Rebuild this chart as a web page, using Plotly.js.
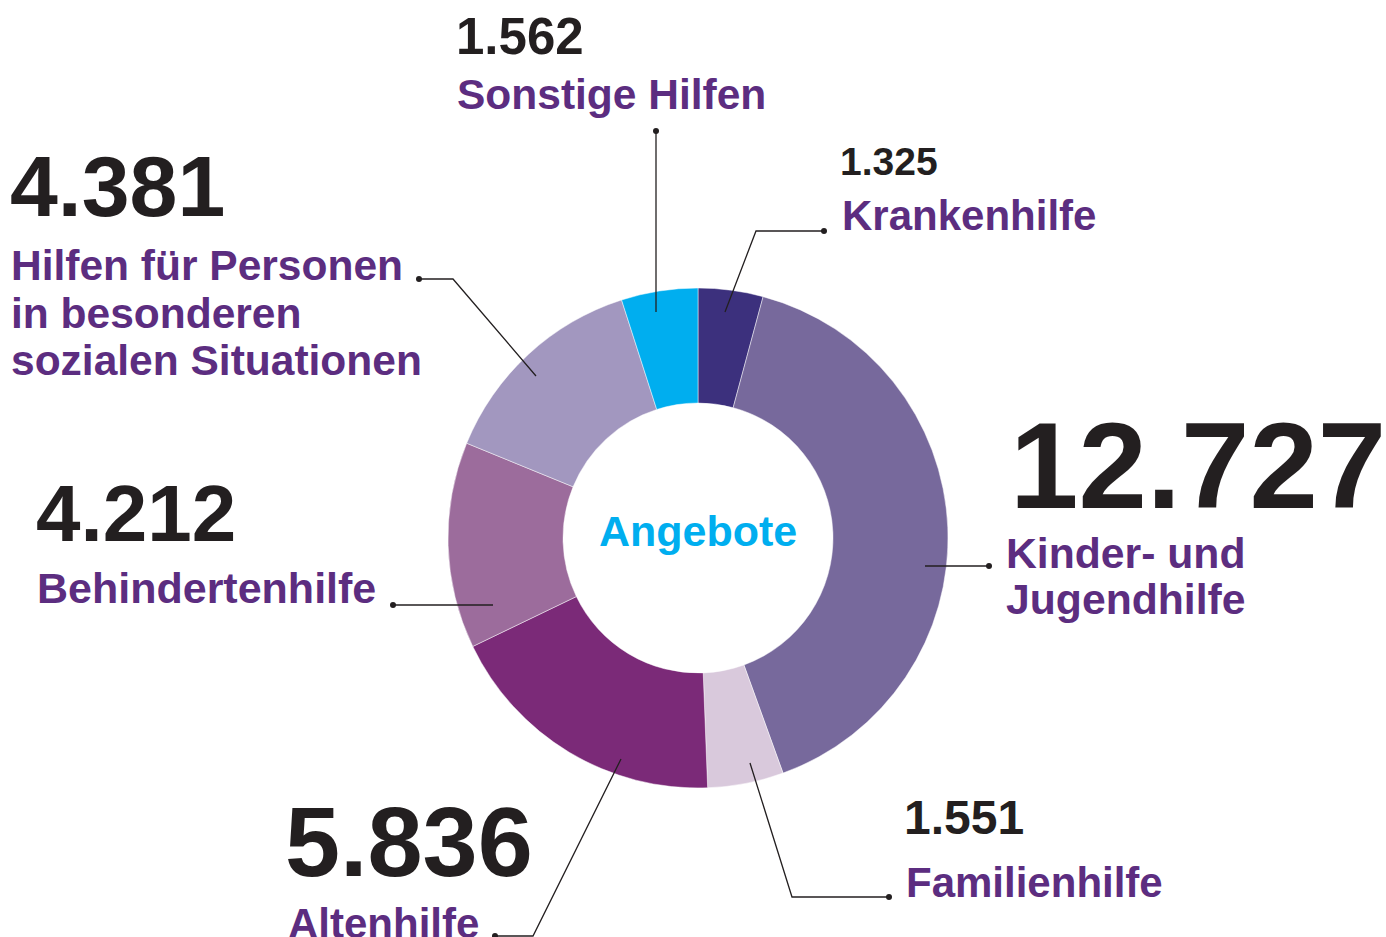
<!DOCTYPE html>
<html>
<head>
<meta charset="utf-8">
<script src="https://cdn.plot.ly/plotly-3.0.1.min.js"></script>
<style>
html,body{margin:0;padding:0;background:#fff;}
#chart{width:1386px;height:937px;}
</style>
</head>
<body>
<div id="chart"></div>
<script>
// ---- data ----
var categories = ["Krankenhilfe", "Kinder- und Jugendhilfe", "Familienhilfe", "Altenhilfe", "Behindertenhilfe", "Hilfen für Personen in besonderen sozialen Situationen", "Sonstige Hilfen"];
var values = [1325, 12727, 1551, 5836, 4212, 4381, 1562];
var labelLines = [["Krankenhilfe"], ["Kinder- und", "Jugendhilfe"], ["Familienhilfe"], ["Altenhilfe"], ["Behindertenhilfe"], ["Hilfen für Personen", "in besonderen", "sozialen Situationen"], ["Sonstige Hilfen"]];
var centerLabel = "Angebote";

// ---- styles ----
var sliceColors = ["#3c307d", "#77699c", "#d9c9dc", "#7b2a78", "#9c6c9c", "#a297bf", "#00aeef"];
var W = 1386, H = 937;
var FONT = "Liberation Sans, Arial, Helvetica, sans-serif";
var NUM_COLOR = "#231f20", LAB_COLOR = "#5c2d80", LINE_COLOR = "#231f20";

// label placement per category (pixel space): number x, number cap-center y, number size, label y list, label size
var place = [
  {x: 838, ny: 162, ns: 39, ly: [215], ls: 42, lx: 840},
  {x: 1008, ny: 465, ns: 123, ly: [553, 599], ls: 42.7, lx: 1004},
  {x: 902, ny: 817, ns: 48, ly: [882], ls: 42, lx: 904},
  {x: 283, ny: 841, ns: 99, ly: [923], ls: 42, lx: 286},
  {x: 34, ny: 513, ns: 80, ly: [588], ls: 43, lx: 35},
  {x: 8, ny: 186, ns: 86, ly: [265, 313, 360], ls: 42.5, lx: 9},
  {x: 454, ny: 37, ns: 51, ly: [94], ls: 42.5, lx: 455}
];
// leader line polylines (pixel space); the first point carries the dot
var leaders = [
  [[824, 231], [756, 231], [725, 312]],
  [[989, 566], [925, 566]],
  [[889, 897], [792, 897], [750, 763]],
  [[495, 936], [533, 936], [621, 759]],
  [[393, 605], [493, 605]],
  [[419, 279], [453, 279], [536, 376]],
  [[656, 131], [656, 312]]
];

function px(x){ return x / W; }
function py(y){ return 1 - y / H; }
function fmt(v){ return String(v).replace(/\B(?=(\d{3})+(?!\d))/g, "."); }

var cx = 698, cy = 538, R = 250;

var trace = {
  type: "pie",
  labels: categories,
  values: values,
  sort: false,
  direction: "clockwise",
  rotation: 0,
  hole: 0.54,
  textinfo: "none",
  hoverinfo: "label+value",
  marker: {colors: sliceColors, line: {color: "rgba(255,255,255,0.6)", width: 0.8}},
  domain: {x: [px(cx - R), px(cx + R)], y: [py(cy + R), py(cy - R)]},
  showlegend: false
};

var annotations = [];
var shapes = [];
for (var i = 0; i < categories.length; i++) {
  var p = place[i];
  annotations.push({
    xref: "paper", yref: "paper", x: px(p.x), y: py(p.ny),
    xanchor: "left", yanchor: "middle", showarrow: false,
    text: fmt(values[i]),
    font: {family: FONT, size: p.ns, color: NUM_COLOR, weight: "bold"}
  });
  for (var j = 0; j < labelLines[i].length; j++) {
    annotations.push({
      xref: "paper", yref: "paper", x: px(p.lx), y: py(p.ly[j]),
      xanchor: "left", yanchor: "middle", showarrow: false,
      text: labelLines[i][j],
      font: {family: FONT, size: p.ls, color: LAB_COLOR, weight: "bold"}
    });
  }
  var pts = leaders[i];
  var path = "";
  for (var k = 0; k < pts.length; k++) {
    path += (k === 0 ? "M" : " L") + px(pts[k][0]) + "," + py(pts[k][1]);
  }
  shapes.push({type: "path", xref: "paper", yref: "paper", path: path,
    line: {color: LINE_COLOR, width: 1.3}});
  var d = pts[0];
  shapes.push({type: "circle", xref: "paper", yref: "paper",
    x0: px(d[0] - 3), x1: px(d[0] + 3), y0: py(d[1] + 3), y1: py(d[1] - 3),
    fillcolor: LINE_COLOR, line: {width: 0}});
}
annotations.push({
  xref: "paper", yref: "paper", x: px(cx), y: py(531),
  xanchor: "center", yanchor: "middle", showarrow: false,
  text: centerLabel,
  font: {family: FONT, size: 43, color: "#00aeef", weight: "bold"}
});

var layout = {
  width: W, height: H,
  margin: {l: 0, r: 0, t: 0, b: 0, pad: 0},
  paper_bgcolor: "#ffffff", plot_bgcolor: "#ffffff",
  showlegend: false,
  annotations: annotations,
  shapes: shapes
};

Plotly.newPlot("chart", [trace], layout, {displayModeBar: false, staticPlot: false});
</script>
</body>
</html>
